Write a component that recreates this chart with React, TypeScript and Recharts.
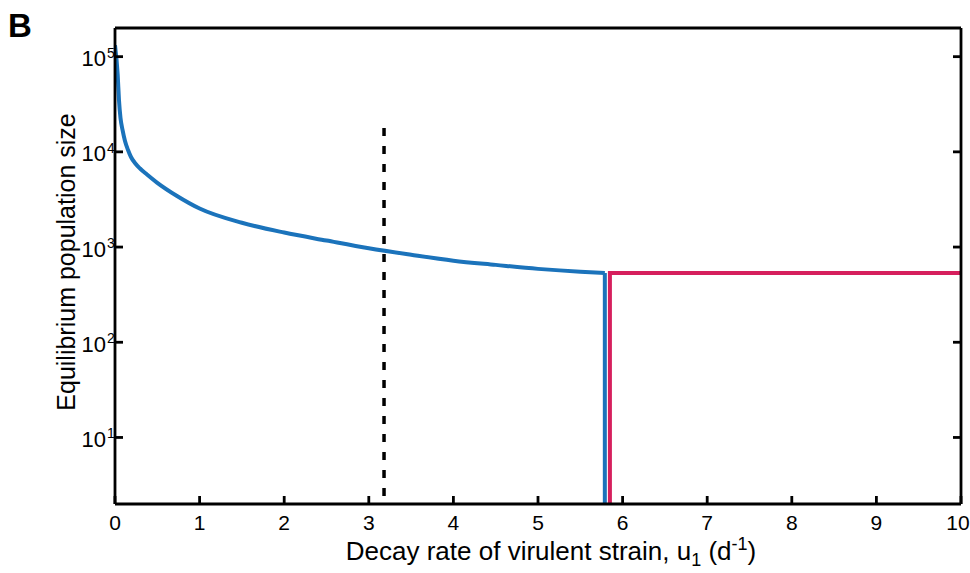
import { Line, LineChart, XAxis, YAxis } from "recharts";

// decay rate u1 (d^-1) and equilibrium population size
const curveU = [0, 0.032, 0.047, 0.065, 0.089, 0.118, 0.154, 0.189, 0.236, 0.296, 0.378, 0.496, 0.733, 1.0, 1.5, 2.0, 2.5, 3.0, 3.5, 4.0, 4.5, 5.0, 5.5, 5.79];
const curveN = [132000, 64000, 35000, 22700, 17000, 13000, 10450, 8830, 7640, 6680, 5780, 4760, 3440, 2540, 1800, 1420, 1170, 970, 830, 720, 650, 590, 550, 535];

const dropU = [5.79, 5.79];
const dropN = [535, 2];

const avirulentU = [5.85, 5.85, 10];
const avirulentN = [2, 535, 535];

// threshold marker, drawn from the top down
const thresholdU = [3.18, 3.18];
const thresholdN = [17800, 2];

const xTicks = [0, 1, 2, 3, 4, 5, 6, 7, 8, 9, 10];
const yTicks = [10, 100, 1000, 10000, 100000];

const zip = (us: number[], ns: number[]) => us.map((u, i) => ({ u, n: ns[i] }));

const curveData = zip(curveU, curveN);
const dropData = zip(dropU, dropN);
const avirulentData = zip(avirulentU, avirulentN);
const thresholdData = zip(thresholdU, thresholdN);

const BLUE = "#1b73bb";
const RED = "#d61f5d";
const FONT = "'Liberation Sans', Arial, sans-serif";
const AXIS = { stroke: "#000", strokeWidth: 2.8 };

const XTick = ({ x, y, payload }: any) => (
  <g>
    <line x1={x} x2={x} y1={y} y2={y - 8} stroke="#000" strokeWidth={2.8} />
    <text
      x={payload.value === 10 ? x - 3 : x}
      y={y + 26}
      textAnchor="middle"
      fontSize={21}
      fontFamily={FONT}
      fill="#000"
    >
      {payload.value}
    </text>
  </g>
);

const YTickLeft = ({ x, y, payload }: any) => {
  const exp = Math.round(Math.log10(payload.value));
  return (
    <g>
      <line x1={x} x2={x + 8} y1={y} y2={y} stroke="#000" strokeWidth={2.8} />
      <text x={x - 9} y={y + 9.5} textAnchor="end" fontSize={22} fontFamily={FONT} fill="#000">
        10
      </text>
      <text x={x - 8} y={y + 1} fontSize={14} fontFamily={FONT} fill="#000">
        {exp}
      </text>
    </g>
  );
};

const YTickRight = ({ x, y }: any) => (
  <line x1={x} x2={x - 8} y1={y} y2={y} stroke="#000" strokeWidth={2.8} />
);

export default function App() {
  return (
    <div style={{ position: "absolute", left: 0, top: 0, width: 970, height: 573, background: "#fff" }}>
      <LineChart width={970} height={573} margin={{ top: 27, right: 8, bottom: 68, left: 114 }}>
        <XAxis
          xAxisId="b"
          dataKey="u"
          type="number"
          domain={[0, 10]}
          ticks={xTicks}
          height={1}
          tickSize={0}
          tickMargin={0}
          tickLine={false}
          tick={<XTick />}
          axisLine={AXIS}
          allowDataOverflow
        />
        <XAxis
          xAxisId="t"
          orientation="top"
          dataKey="u"
          type="number"
          domain={[0, 10]}
          height={1}
          tick={false}
          tickLine={false}
          axisLine={AXIS}
        />
        <YAxis
          yAxisId="l"
          type="number"
          scale="log"
          domain={[2, 200000]}
          ticks={yTicks}
          width={1}
          tickSize={0}
          tickMargin={0}
          tickLine={false}
          tick={<YTickLeft />}
          axisLine={AXIS}
          allowDataOverflow
        />
        <YAxis
          yAxisId="r"
          orientation="right"
          type="number"
          scale="log"
          domain={[2, 200000]}
          ticks={yTicks}
          width={1}
          tickSize={0}
          tickMargin={0}
          tickLine={false}
          tick={<YTickRight />}
          axisLine={AXIS}
          allowDataOverflow
        />
        <Line
          xAxisId="b"
          yAxisId="l"
          data={thresholdData}
          dataKey="n"
          type="linear"
          stroke="#000"
          strokeWidth={3.5}
          strokeDasharray="8 10"
          dot={false}
          isAnimationActive={false}
        />
        <Line
          xAxisId="b"
          yAxisId="l"
          data={curveData}
          dataKey="n"
          type="monotone"
          stroke={BLUE}
          strokeWidth={4}
          dot={false}
          isAnimationActive={false}
        />
        <Line
          xAxisId="b"
          yAxisId="l"
          data={dropData}
          dataKey="n"
          type="linear"
          stroke={BLUE}
          strokeWidth={4}
          dot={false}
          isAnimationActive={false}
        />
        <Line
          xAxisId="b"
          yAxisId="l"
          data={avirulentData}
          dataKey="n"
          type="linear"
          stroke={RED}
          strokeWidth={4}
          dot={false}
          isAnimationActive={false}
        />
      </LineChart>
      <svg
        width={970}
        height={573}
        style={{ position: "absolute", left: 0, top: 0, pointerEvents: "none" }}
        fontFamily={FONT}
      >
        <text x={8} y={37} fontSize={33} fontWeight="bold" fill="#000">
          B
        </text>
        <text transform="translate(75,262) rotate(-90)" textAnchor="middle" fontSize={25} fill="#000">
          Equilibrium population size
        </text>
        <text x={551} y={560} textAnchor="middle" fontSize={26} fill="#000">
          Decay rate of virulent strain, u
          <tspan fontSize={18} dy={6}>1</tspan>
          <tspan dy={-6}> (d</tspan>
          <tspan fontSize={18} dy={-10}>-1</tspan>
          <tspan dy={10}>)</tspan>
        </text>
      </svg>
    </div>
  );
}
